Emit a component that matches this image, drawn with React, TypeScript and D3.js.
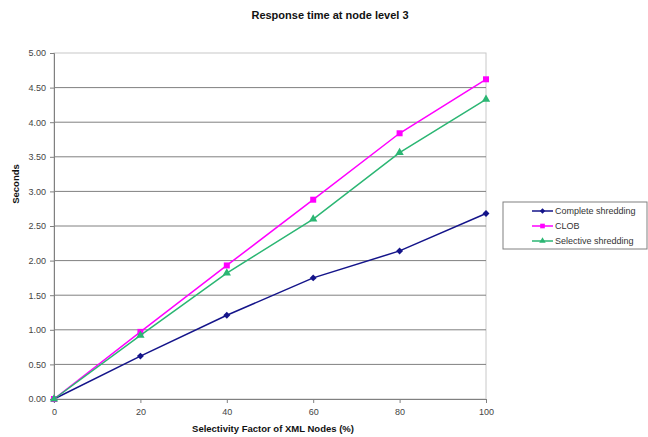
import React, { useRef, useEffect } from 'react';
import * as d3 from 'd3';

const xValues = [0, 20, 40, 60, 80, 100];
const completeShredding = [0, 0.62, 1.21, 1.75, 2.14, 2.68];
const clob = [0, 0.97, 1.93, 2.88, 3.84, 4.62];
const selectiveShredding = [0, 0.92, 1.82, 2.6, 3.56, 4.33];
const yTicks = [0, 0.5, 1, 1.5, 2, 2.5, 3, 3.5, 4, 4.5, 5];

const series = [
    { name: 'Complete shredding', values: completeShredding, color: '#14148a', symbol: d3.symbolSquare, size: 24, rotate: 45 },
    { name: 'CLOB', values: clob, color: '#ff00ff', symbol: d3.symbolSquare, size: 36, rotate: 0 },
    { name: 'Selective shredding', values: selectiveShredding, color: '#2bb673', symbol: d3.symbolTriangle, size: 30, rotate: 0 },
];

const App: React.FC = () => {
    const svgRef = useRef<SVGSVGElement | null>(null);

    useEffect(() => {
        if (!svgRef.current) return;
        const width = 648;
        const height = 437;
        const margin = { top: 53, right: 162, bottom: 38, left: 54 };
        const font = 'Liberation Sans, Arial, sans-serif';

        const x = d3.scaleLinear().domain([0, 100]).range([margin.left, width - margin.right]);
        const y = d3.scaleLinear().domain([0, 5]).range([height - margin.bottom, margin.top]);

        const svg = d3.select(svgRef.current);
        svg.selectAll('*').remove();

        // Title
        svg.append('text')
            .attr('x', 330).attr('y', 19)
            .attr('text-anchor', 'middle')
            .attr('font-family', font).attr('font-size', 11).attr('font-weight', 'bold')
            .attr('fill', '#111')
            .text('Response time at node level 3');

        // plot border (top/right)
        svg.append('rect')
            .attr('x', x(0)).attr('y', y(5))
            .attr('width', x(100) - x(0)).attr('height', y(0) - y(5))
            .attr('fill', 'none').attr('stroke', '#c8c8c8').attr('stroke-width', 1);

        // gridlines
        svg.append('g')
            .selectAll('line')
            .data(yTicks.filter(t => t > 0 && t < 5))
            .join('line')
            .attr('x1', x(0)).attr('x2', x(100))
            .attr('y1', d => y(d)).attr('y2', d => y(d))
            .attr('stroke', '#808080').attr('stroke-width', 1);

        // y axis
        const yAxis = svg.append('g')
            .attr('transform', `translate(${x(0)},0)`)
            .call(d3.axisLeft(y).tickValues(yTicks).tickFormat(d3.format('.2f')).tickSize(4).tickPadding(4));
        yAxis.select('.domain').attr('stroke', '#808080');
        yAxis.selectAll('.tick line').attr('stroke', '#808080');
        yAxis.selectAll('text').attr('font-family', font).attr('font-size', 9).attr('fill', '#444');

        // x axis
        const xAxis = svg.append('g')
            .attr('transform', `translate(0,${y(0)})`)
            .call(d3.axisBottom(x).tickValues(xValues).tickSize(4).tickPadding(6));
        xAxis.select('.domain').attr('stroke', '#808080');
        xAxis.selectAll('.tick line').attr('stroke', '#808080');
        xAxis.selectAll('text').attr('font-family', font).attr('font-size', 9).attr('fill', '#444');

        // axis titles
        svg.append('text')
            .attr('x', 273).attr('y', 432)
            .attr('text-anchor', 'middle')
            .attr('font-family', font).attr('font-size', 9.5).attr('font-weight', 'bold')
            .attr('fill', '#111')
            .text('Selectivity Factor of XML Nodes (%)');
        svg.append('text')
            .attr('transform', 'translate(19,184) rotate(-90)')
            .attr('text-anchor', 'middle')
            .attr('font-family', font).attr('font-size', 9.5).attr('font-weight', 'bold')
            .attr('fill', '#111')
            .text('Seconds');

        // lines and markers
        const line = d3.line<number>().x((_, i) => x(xValues[i])).y(d => y(d));
        series.forEach(s => {
            svg.append('path')
                .datum(s.values)
                .attr('d', line)
                .attr('fill', 'none')
                .attr('stroke', s.color)
                .attr('stroke-width', 1.5);
            svg.append('g')
                .selectAll('path')
                .data(s.values)
                .join('path')
                .attr('transform', (d, i) => `translate(${x(xValues[i])},${y(d)}) rotate(${s.rotate})`)
                .attr('d', d3.symbol().type(s.symbol).size(s.size)())
                .attr('fill', s.color);
        });

        // legend
        const legend = svg.append('g').attr('transform', 'translate(503,202)');
        legend.append('rect')
            .attr('width', 144).attr('height', 47)
            .attr('fill', 'white').attr('stroke', '#808080');
        series.forEach((s, i) => {
            const row = legend.append('g').attr('transform', `translate(0,${9 + i * 15})`);
            row.append('line')
                .attr('x1', 29).attr('x2', 50)
                .attr('stroke', s.color).attr('stroke-width', 1.5);
            row.append('path')
                .attr('transform', `translate(39.5,0) rotate(${s.rotate})`)
                .attr('d', d3.symbol().type(s.symbol).size(s.size * 0.6)())
                .attr('fill', s.color);
            row.append('text')
                .attr('x', 52).attr('y', 3)
                .attr('font-family', font).attr('font-size', 9)
                .attr('fill', '#333')
                .text(s.name);
        });
    }, []);

    return <svg ref={svgRef} width={648} height={437} style={{ display: 'block', position: 'absolute', left: 0, top: 0, background: 'white' }} />;
};

export default App;
